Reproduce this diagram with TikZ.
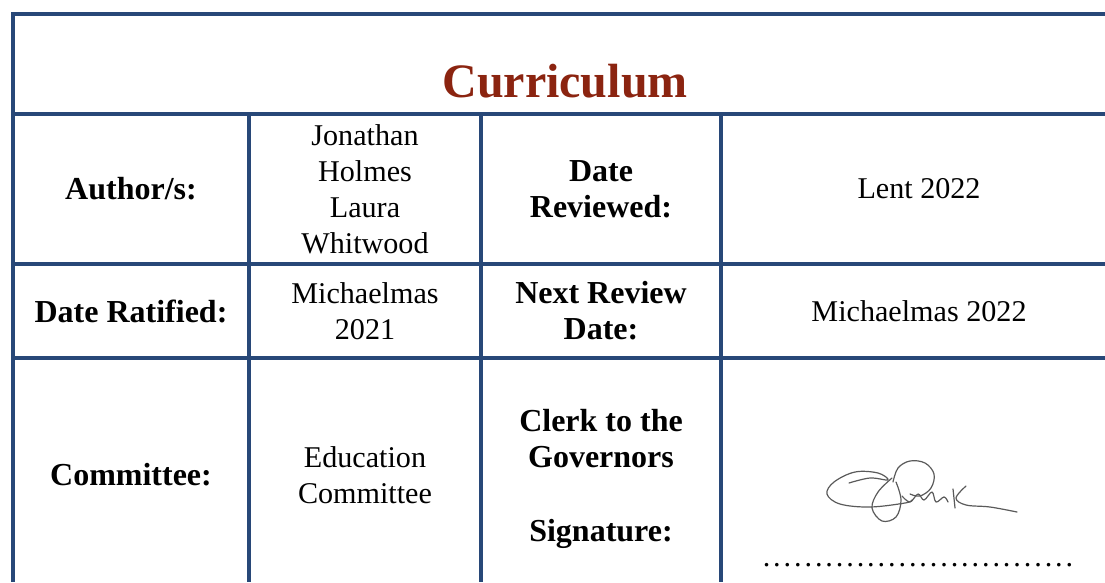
\documentclass[tikz,border=0pt]{standalone}
\usepackage{fontspec}
\setmainfont{Liberation Serif}
\definecolor{gridblue}{HTML}{284878}
\definecolor{titlered}{HTML}{8B2410}
\definecolor{siggray}{HTML}{5A5A5A}
\tikzset{
  grid/.style={draw=gridblue, line width=3pt},
  label/.style={align=center, font=\fontsize{24}{27}\selectfont\bfseries, inner sep=0pt},
  value/.style={align=center, font=\fontsize{22.6}{27}\selectfont, inner sep=0pt},
  sig/.style={draw=siggray, line width=0.9pt, line cap=round, line join=round}
}
\begin{document}
\begin{tikzpicture}[x=0.75pt,y=-0.75pt]
\useasboundingbox (0,0) rectangle (1105,582);
% grid corners
\coordinate (tl) at (11,14);
\coordinate (tr) at (1105,14);
\coordinate (h1l) at (13,114);
\coordinate (h1r) at (1105,114);
\coordinate (h2l) at (13,264);
\coordinate (h2r) at (1105,264);
\coordinate (h3l) at (13,358);
\coordinate (h3r) at (1105,358);
\coordinate (v0t) at (13,12);
\coordinate (v0b) at (13,582);
\coordinate (v1t) at (249,114);
\coordinate (v1b) at (249,582);
\coordinate (v2t) at (481,114);
\coordinate (v2b) at (481,582);
\coordinate (v3t) at (721,114);
\coordinate (v3b) at (721,582);
\draw[grid] (tl) -- (tr);
\draw[grid] (h1l) -- (h1r);
\draw[grid] (h2l) -- (h2r);
\draw[grid] (h3l) -- (h3r);
\draw[grid] (v0t) -- (v0b);
\draw[grid] (v1t) -- (v1b);
\draw[grid] (v2t) -- (v2b);
\draw[grid] (v3t) -- (v3b);
% title
\node[anchor=base, inner sep=0pt, text=titlered, font=\fontsize{36}{40}\selectfont\bfseries] (title) at (565,97) {Curriculum};
% row 1
\node[label] (author) at (131,189) {Author/s:};
\node[value] (authors) at (365,189) {Jonathan\\Holmes\\Laura\\Whitwood};
\node[label] (reviewed) at (601,189) {Date\\Reviewed:};
\node[value] (lent) at (919,189) {Lent 2022};
% row 2
\node[label] (ratified) at (131,311) {Date Ratified:};
\node[value] (mich21) at (365,311) {Michaelmas\\2021};
\node[label] (nextrev) at (601,311) {Next Review\\Date:};
\node[value] (mich22) at (919,311) {Michaelmas 2022};
% row 3
\node[label] (committee) at (131,475) {Committee:};
\node[value] (educ) at (365,475) {Education\\Committee};
\node[label] (clerk) at (601,479) {Clerk to the\\Governors\\[28pt]Signature:};
% signature
\draw[sig] plot[smooth, tension=0.6] coordinates {(849,483) (870,478) (888,480) (878,473) (855,472) (834,482) (827,494) (840,504) (870,507) (905,503) (912,500)};
\draw[sig] plot[smooth, tension=0.6] coordinates {(893,482) (898,468) (910,461) (925,463) (934,474) (931,488) (920,496) (910,494)};
\draw[sig] plot[smooth, tension=0.6] coordinates {(892,478) (878,492) (872,508) (882,521) (896,517) (901,500) (896,482)};
\draw[sig] plot[smooth, tension=0.6] coordinates {(902,496) (910,502) (918,494) (924,500) (932,492) (936,502) (944,497) (948,502)};
\draw[sig] (953,489) -- (955,508);
\draw[sig] plot[smooth, tension=0.6] coordinates {(966,486) (956,498) (966,505) (990,507) (1017,512)};
% dotted line
\node[value, anchor=base] (dots) at (918,566) {\hbox to 235pt{\xleaders\hbox to 7.8pt{\hss.\hss}\hfill}};
\end{tikzpicture}
\end{document}
